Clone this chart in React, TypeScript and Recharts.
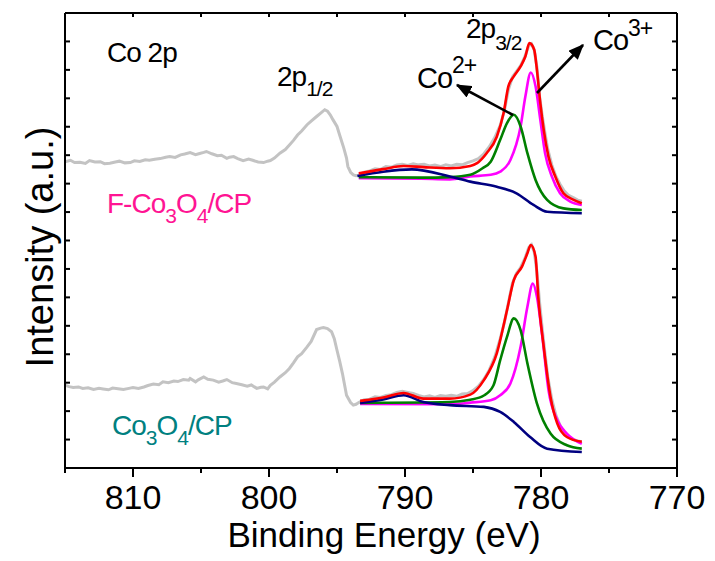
import { ComposedChart, Line, XAxis, YAxis } from "recharts";

const FONT = "'Liberation Sans', Arial, Helvetica, sans-serif";

// binding energy ticks (eV) and intensity ticks (a.u.)
const energyTicks = [815, 810, 805, 800, 795, 790, 785, 780, 775, 770];
const intensityTicks = [0, 1, 2, 3, 4, 5, 6, 7, 8, 9, 10, 11, 12, 13, 14, 15, 16];

// F-Co3O4/CP  (upper spectrum)  [energy, intensity]
const fRaw: [number, number][] = [
  [815.0, 10.77], [814.6, 10.82], [814.3, 10.74], [813.9, 10.75], [813.5, 10.71], [813.2, 10.81],
  [812.8, 10.76], [812.4, 10.77], [812.1, 10.7], [811.7, 10.72], [811.3, 10.76], [811.0, 10.79],
  [810.6, 10.73], [810.2, 10.74], [809.9, 10.8], [809.5, 10.78], [809.1, 10.84], [808.8, 10.82],
  [808.4, 10.86], [808.0, 10.88], [807.6, 10.93], [807.3, 10.95], [806.9, 10.92], [806.5, 11.01],
  [806.2, 11.04], [805.8, 11.09], [805.4, 11.02], [805.1, 11.06], [804.8, 11.1], [804.6, 11.13],
  [804.2, 11.05], [803.8, 10.98], [803.5, 11.0], [803.1, 10.89], [802.9, 10.93], [802.6, 10.95],
  [802.3, 10.88], [801.9, 10.81], [801.5, 10.86], [801.2, 10.82], [800.8, 10.76], [800.4, 10.74],
  [800.1, 10.79], [799.9, 10.81], [799.6, 10.9], [799.2, 11.07], [798.8, 11.2], [798.5, 11.36],
  [798.2, 11.52], [797.9, 11.71], [797.6, 11.85], [797.2, 12.07], [796.9, 12.2], [796.5, 12.36],
  [796.2, 12.48], [795.9, 12.6], [795.7, 12.55], [795.5, 12.42], [795.3, 12.25], [795.0, 12.01],
  [794.8, 11.7], [794.5, 11.25], [794.3, 10.9], [794.2, 10.6], [794.0, 10.4], [793.8, 10.31],
  [793.6, 10.28], [793.4, 10.3], [793.0, 10.4], [792.6, 10.45], [792.2, 10.52], [791.8, 10.5],
  [791.4, 10.6], [791.0, 10.58], [790.6, 10.66], [790.2, 10.68], [789.8, 10.64], [789.4, 10.7],
  [789.0, 10.66], [788.6, 10.68], [788.2, 10.62], [787.8, 10.65], [787.4, 10.6], [787.0, 10.66],
  [786.6, 10.62], [786.2, 10.68], [785.8, 10.66], [785.4, 10.74], [785.0, 10.8], [784.6, 10.88],
  [784.2, 11.05], [783.8, 11.3], [783.4, 11.62], [783.0, 12.05], [782.7, 12.55], [782.4, 13.3],
  [782.1, 13.75], [781.8, 13.95], [781.5, 14.15], [781.2, 14.45], [780.9, 14.85], [780.7, 14.92],
  [780.5, 14.7], [780.3, 14.1], [780.1, 13.05], [779.9, 12.35], [779.7, 11.75], [779.5, 11.2],
  [779.2, 10.65], [778.9, 10.25], [778.6, 9.98], [778.3, 9.75], [778.0, 9.6], [777.6, 9.5],
  [777.3, 9.42], [777.0, 9.38],
];
const fEnvelope: [number, number][] = [
  [793.4, 10.36], [791.6, 10.51], [790.1, 10.62], [788.65, 10.58], [786.7, 10.54], [785.2, 10.62],
  [784.7, 10.72], [784.0, 11.07], [783.25, 11.65], [782.75, 12.48], [782.4, 13.42], [782.0, 13.77],
  [781.5, 14.12], [781.15, 14.47], [780.85, 14.94], [780.5, 14.71], [780.3, 14.0], [780.05, 12.83],
  [779.8, 11.89], [779.45, 10.95], [778.95, 10.25], [778.35, 9.66], [777.6, 9.43], [777.0, 9.31],
];
const fCo3: [number, number][] = [
  [793.4, 10.19], [788.8, 10.17], [786.7, 10.15], [785.2, 10.25], [783.7, 10.31], [783.0, 10.42],
  [782.25, 10.83], [781.5, 12.01], [781.15, 13.06], [780.75, 13.91], [780.4, 13.42], [780.05, 12.24],
  [779.7, 11.07], [779.2, 10.25], [778.6, 9.66], [777.85, 9.37], [777.0, 9.25],
];
const fCo2: [number, number][] = [
  [793.4, 10.23], [788.8, 10.21], [786.7, 10.23], [785.2, 10.31], [784.3, 10.54], [783.7, 10.77],
  [783.0, 11.54], [782.5, 12.13], [782.0, 12.42], [781.5, 12.01], [781.0, 11.07], [780.4, 10.13],
  [779.55, 9.43], [778.35, 9.13], [777.0, 9.07],
];
const fBackground: [number, number][] = [
  [793.5, 10.27], [791.6, 10.42], [789.5, 10.5], [786.7, 10.25], [785.2, 10.07], [783.25, 9.89],
  [781.8, 9.66], [780.55, 9.25], [779.55, 9.01], [777.0, 8.96],
];

// Co3O4/CP  (lower spectrum)
const cRaw: [number, number][] = [
  [815.0, 2.91], [814.7, 2.86], [814.4, 2.83], [814.0, 2.85], [813.7, 2.8], [813.3, 2.82],
  [812.9, 2.76], [812.5, 2.8], [812.2, 2.78], [811.8, 2.75], [811.5, 2.81], [811.1, 2.79],
  [810.7, 2.76], [810.3, 2.8], [810.0, 2.83], [809.6, 2.8], [809.2, 2.85], [808.9, 2.9],
  [808.5, 2.95], [808.1, 2.93], [807.8, 3.03], [807.4, 3.0], [807.0, 3.06], [806.7, 3.04],
  [806.3, 3.11], [805.9, 3.09], [805.8, 3.15], [805.4, 3.03], [805.2, 3.1], [804.8, 3.2],
  [804.5, 3.12], [804.1, 3.09], [803.7, 3.02], [803.4, 3.06], [803.1, 3.11], [802.7, 3.0],
  [802.4, 2.97], [802.0, 2.93], [801.6, 2.88], [801.3, 2.92], [800.9, 2.8], [800.6, 2.84],
  [800.4, 2.85], [800.1, 2.78], [799.9, 2.91], [799.6, 3.02], [799.2, 3.2], [798.8, 3.35],
  [798.5, 3.5], [798.2, 3.7], [797.9, 3.91], [797.6, 4.02], [797.2, 4.26], [796.9, 4.45],
  [796.5, 4.87], [796.2, 4.92], [796.0, 4.94], [795.7, 4.9], [795.4, 4.79], [795.2, 4.55],
  [795.0, 4.14], [794.8, 3.75], [794.6, 3.32], [794.3, 2.56], [794.0, 2.3], [793.8, 2.21],
  [793.6, 2.24], [793.4, 2.3], [793.0, 2.4], [792.6, 2.42], [792.2, 2.5], [791.8, 2.48],
  [791.4, 2.55], [791.0, 2.58], [790.6, 2.66], [790.2, 2.7], [789.8, 2.66], [789.4, 2.62],
  [789.0, 2.55], [788.6, 2.5], [788.2, 2.54], [787.8, 2.48], [787.4, 2.55], [787.0, 2.52],
  [786.6, 2.56], [786.2, 2.52], [785.8, 2.6], [785.4, 2.62], [785.0, 2.72], [784.6, 2.88],
  [784.2, 3.12], [783.8, 3.45], [783.4, 3.9], [783.0, 4.55], [782.7, 5.1], [782.4, 5.8],
  [782.1, 6.5], [781.8, 6.85], [781.5, 7.05], [781.2, 7.35], [780.9, 7.75], [780.7, 7.85],
  [780.5, 7.6], [780.3, 6.9], [780.1, 5.8], [779.9, 4.85], [779.7, 4.0], [779.5, 3.2],
  [779.2, 2.4], [778.9, 1.85], [778.6, 1.5], [778.3, 1.25], [778.0, 1.1], [777.6, 1.0],
  [777.3, 0.95], [777.0, 0.92],
];
const cEnvelope: [number, number][] = [
  [793.3, 2.36], [791.6, 2.48], [790.1, 2.64], [788.65, 2.44], [786.7, 2.44], [785.2, 2.58],
  [784.2, 3.09], [783.25, 4.03], [782.5, 5.55], [782.0, 6.61], [781.4, 7.08], [781.0, 7.55],
  [780.75, 7.84], [780.4, 7.43], [780.2, 6.02], [779.8, 4.26], [779.3, 2.5], [778.8, 1.56],
  [778.1, 1.09], [777.0, 0.92],
];
const cCo3: [number, number][] = [
  [793.3, 2.25], [786.7, 2.24], [785.2, 2.3], [783.7, 2.38], [783.0, 2.56], [782.25, 2.97],
  [781.5, 4.26], [781.0, 5.67], [780.6, 6.49], [780.3, 6.02], [779.9, 4.61], [779.45, 2.74],
  [778.8, 1.68], [778.1, 1.21], [777.0, 0.85],
];
const cCo2: [number, number][] = [
  [793.3, 2.29], [786.7, 2.32], [785.2, 2.4], [784.2, 2.55], [783.5, 2.9], [783.0, 3.79],
  [782.5, 4.61], [782.0, 5.26], [781.5, 4.85], [781.0, 3.68], [780.3, 2.27], [779.3, 1.21],
  [778.1, 0.8], [777.0, 0.68],
];
const cBackground: [number, number][] = [
  [793.3, 2.29], [791.6, 2.41], [790.1, 2.56], [788.65, 2.32], [786.7, 2.21], [784.2, 2.15],
  [783.0, 1.97], [782.0, 1.62], [780.8, 1.09], [779.55, 0.68], [777.0, 0.56],
];

const pts = (arr: [number, number][]) => arr.map(([e, v]) => ({ e, v }));

function BottomTick(props: any) {
  const { x, y, payload } = props;
  const major = payload.value % 10 === 0;
  return (
    <g>
      <line x1={x} x2={x} y1={y} y2={y + (major ? 9 : 5)} stroke="#000" strokeWidth={2} />
      {major && (
        <text x={x} y={y + 41} textAnchor="middle" fontSize={34} fontFamily={FONT} fill="#000">
          {payload.value}
        </text>
      )}
    </g>
  );
}
function TopTick(props: any) {
  const { x, y } = props;
  return <line x1={x} x2={x} y1={y} y2={y + 4} stroke="#000" strokeWidth={2} />;
}
function LeftTick(props: any) {
  const { x, y } = props;
  return <line x1={x} x2={x + 5} y1={y} y2={y} stroke="#000" strokeWidth={2} />;
}
function RightTick(props: any) {
  const { x, y } = props;
  return <line x1={x} x2={x - 5} y1={y} y2={y} stroke="#000" strokeWidth={2} />;
}

const fit = (data: [number, number][], color: string, key: string) => (
  <Line
    key={key}
    data={pts(data)}
    dataKey="v"
    xAxisId="b"
    yAxisId="l"
    type="monotone"
    stroke={color}
    strokeWidth={2.6}
    dot={false}
    activeDot={false}
    isAnimationActive={false}
  />
);
const raw = (data: [number, number][], key: string) => (
  <Line
    key={key}
    data={pts(data)}
    dataKey="v"
    xAxisId="b"
    yAxisId="l"
    type="linear"
    stroke="#c3c3c3"
    strokeWidth={3}
    dot={false}
    activeDot={false}
    isAnimationActive={false}
  />
);

export default function App() {
  return (
    <div style={{ position: "absolute", left: 0, top: 0, width: 715, height: 561, background: "#fff" }}>
      <ComposedChart width={715} height={561} margin={{ top: 0, right: 0, bottom: 0, left: 0 }}>
        <XAxis
          xAxisId="b"
          dataKey="e"
          type="number"
          domain={[770, 815]}
          reversed
          allowDataOverflow
          ticks={energyTicks}
          interval={0}
          height={93}
          tickSize={0}
          tickMargin={0}
          tickLine={false}
          tick={<BottomTick />}
          axisLine={{ stroke: "#000", strokeWidth: 2 }}
        />
        <XAxis
          xAxisId="t"
          orientation="top"
          dataKey="e"
          type="number"
          domain={[770, 815]}
          reversed
          allowDataOverflow
          ticks={energyTicks}
          interval={0}
          height={13}
          tickSize={0}
          tickMargin={0}
          tickLine={false}
          tick={<TopTick />}
          axisLine={{ stroke: "#000", strokeWidth: 2 }}
        />
        <YAxis
          yAxisId="l"
          type="number"
          domain={[0, 16]}
          allowDataOverflow
          ticks={intensityTicks}
          interval={0}
          width={65}
          tickSize={0}
          tickMargin={0}
          tickLine={false}
          tick={<LeftTick />}
          axisLine={{ stroke: "#000", strokeWidth: 2 }}
        />
        <YAxis
          yAxisId="r"
          orientation="right"
          type="number"
          domain={[0, 16]}
          allowDataOverflow
          ticks={intensityTicks}
          interval={0}
          width={38}
          tickSize={0}
          tickMargin={0}
          tickLine={false}
          tick={<RightTick />}
          axisLine={{ stroke: "#000", strokeWidth: 2 }}
        />
        {raw(fRaw, "fRaw")}
        {raw(cRaw, "cRaw")}
        {fit(fCo3, "#ff00ff", "fCo3")}
        {fit(fCo2, "#008000", "fCo2")}
        {fit(fBackground, "#000080", "fBg")}
        {fit(fEnvelope, "#ff0000", "fEnv")}
        {fit(cCo3, "#ff00ff", "cCo3")}
        {fit(cCo2, "#008000", "cCo2")}
        {fit(cBackground, "#000080", "cBg")}
        {fit(cEnvelope, "#ff0000", "cEnv")}
      </ComposedChart>

      <svg
        width={715}
        height={561}
        style={{ position: "absolute", left: 0, top: 0, pointerEvents: "none" }}
        fontFamily={FONT}
      >
        <defs>
          <marker id="head" markerWidth="6" markerHeight="5" refX="5.5" refY="2.5" orient="auto" markerUnits="strokeWidth">
            <path d="M0,0 L6,2.5 L0,5 Z" fill="#000" />
          </marker>
        </defs>
        <text x={107} y={62} fontSize={28} letterSpacing={-1}>Co 2p</text>
        <text x={277} y={86} fontSize={28} letterSpacing={-1}>
          2p<tspan dy={10} fontSize={21}>1/2</tspan>
        </text>
        <text x={466} y={38} fontSize={28} letterSpacing={-1}>
          2p<tspan dy={12} fontSize={21}>3/2</tspan>
        </text>
        <text x={417} y={88} fontSize={29} letterSpacing={-1}>
          Co<tspan dy={-15} fontSize={23}>2+</tspan>
        </text>
        <text x={593} y={50} fontSize={29} letterSpacing={-1}>
          Co<tspan dy={-14} fontSize={23}>3+</tspan>
        </text>
        <line x1={513} y1={115} x2={457} y2={85} stroke="#000" strokeWidth={2.6} markerEnd="url(#head)" />
        <line x1={537} y1={93} x2={583} y2={45} stroke="#000" strokeWidth={2.6} markerEnd="url(#head)" />
        <text x={107} y={213} fontSize={28} fill="#ff1493" letterSpacing={-1}>
          F-Co<tspan dy={10} fontSize={21}>3</tspan>
          <tspan dy={-10}>O</tspan>
          <tspan dy={10} fontSize={21}>4</tspan>
          <tspan dy={-10}>/CP</tspan>
        </text>
        <text x={112} y={435} fontSize={28} fill="#008080" letterSpacing={-1}>
          Co<tspan dy={10} fontSize={21}>3</tspan>
          <tspan dy={-10}>O</tspan>
          <tspan dy={10} fontSize={21}>4</tspan>
          <tspan dy={-10}>/CP</tspan>
        </text>
        <text x={384} y={547} fontSize={35} textAnchor="middle">Binding Energy (eV)</text>
        <text x={53} y={247} fontSize={38} textAnchor="middle" transform="rotate(-90 53 247)">
          Intensity (a.u.)
        </text>
      </svg>
    </div>
  );
}
